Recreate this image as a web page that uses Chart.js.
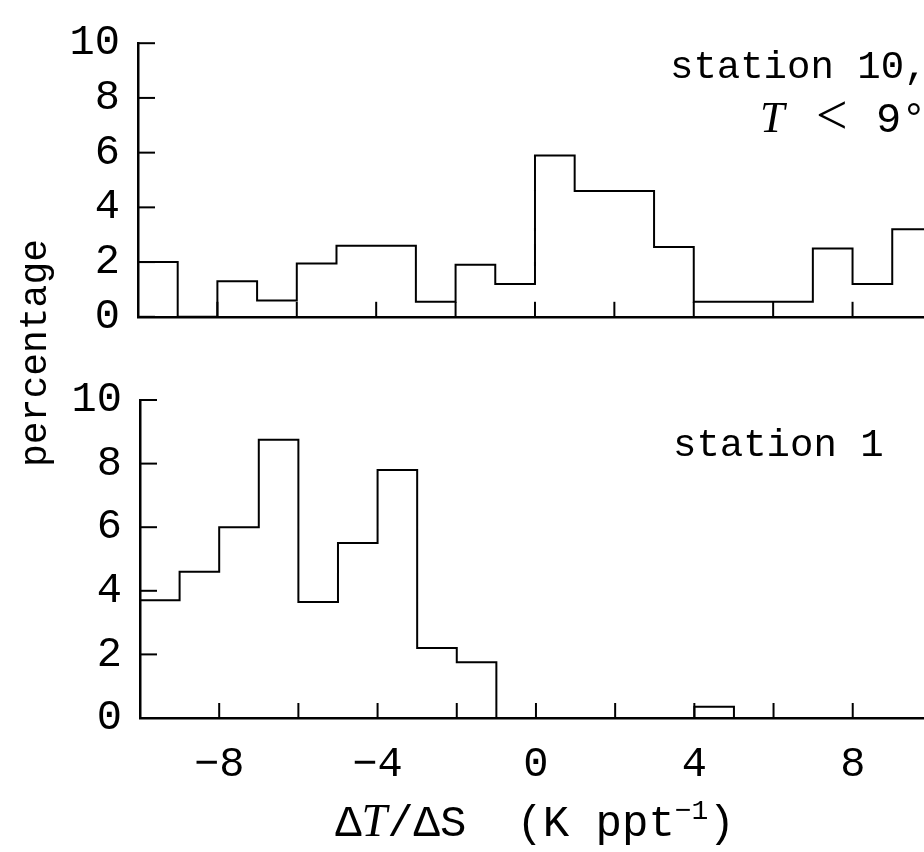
<!DOCTYPE html>
<html>
<head>
<meta charset="utf-8">
<script src="https://cdn.jsdelivr.net/npm/chart.js@4.4.1/dist/chart.umd.min.js"></script>
<style>
  body { margin: 0; background: #fff; }
  #wrap { position: relative; width: 924px; height: 852px; }
  #wrap canvas { position: absolute; left: 0; top: 0; }
</style>
</head>
<body>
<div id="wrap">
  <canvas id="bottomChart" width="924" height="852"></canvas>
  <canvas id="topChart" width="924" height="360"></canvas>
</div>
<script>
// bordes de clase (K ppt-1) y porcentaje de cada clase
const binEdges = [-10, -9, -8, -7, -6, -5, -4, -3, -2, -1, 0, 1, 2, 3, 4, 5, 6, 7, 8, 9, 10];
const station10Pct = [2.0, 0, 1.3, 0.6, 1.95, 2.6, 2.6, 0.55, 1.9, 1.2, 5.9, 4.6, 4.6, 2.55, 0.55, 0.55, 0.55, 2.5, 1.2, 3.2];
const station1Pct = [3.7, 4.6, 6.0, 8.75, 3.65, 5.5, 7.8, 2.2, 1.75, 0, 0, 0, 0, 0, 0.35, 0, 0, 0, 0, 0];

const yTickValues = [0, 2, 4, 6, 8, 10];
const xLabelValues = [-8, -4, 0, 4, 8];

const MONO = '"Liberation Mono", "DejaVu Sans Mono", monospace';
const SERIF = '"Liberation Serif", "DejaVu Serif", serif';

// puntos del escalonado: el valor de cada clase va desde su borde izquierdo al derecho
function stepPoints(edges, pct) {
    return edges.map((x, i) => ({ x: x, y: i === 0 ? 0 : pct[i - 1] }));
}

// marcas de los ejes hacia adentro
const tickMarks = {
    id: 'tickMarks',
    afterDraw(chart) {
        const { ctx, scales: { x, y } } = chart;
        ctx.save();
        ctx.strokeStyle = '#000';
        ctx.lineWidth = 2;
        x.ticks.forEach(t => {
            if (t.value <= x.min) return;
            const px = x.getPixelForValue(t.value);
            ctx.beginPath();
            ctx.moveTo(px, y.bottom);
            ctx.lineTo(px, y.bottom - 15);
            ctx.stroke();
        });
        yTickValues.forEach(v => {
            const py = y.getPixelForValue(v);
            ctx.beginPath();
            ctx.moveTo(x.left, py);
            ctx.lineTo(x.left + 17, py);
            ctx.stroke();
        });
        ctx.restore();
    }
};

// dibuja trozos de texto seguidos (para cursivas y superindices)
function drawPieces(ctx, pieces, x, y) {
    pieces.forEach(p => {
        ctx.font = p.font;
        const dy = p.sup ? -17 : 0;
        ctx.fillText(p.text, x, y + dy);
        x += ctx.measureText(p.text).width + (p.gap || 0);
    });
}

const topNotes = {
    id: 'topNotes',
    afterDraw(chart) {
        const ctx = chart.ctx;
        ctx.save();
        ctx.fillStyle = '#000';
        ctx.textBaseline = 'alphabetic';
        ctx.font = '39px ' + MONO;
        ctx.fillText('station 10,', 670, 78);
        ctx.font = 'italic 44px ' + SERIF;
        ctx.fillText('T', 760, 132);
        ctx.font = '56px ' + SERIF;
        ctx.fillText('<', 816, 134);
        ctx.font = '42px ' + MONO;
        ctx.fillText('9\u00b0C', 876, 132);
        ctx.restore();
    }
};

const bottomNotes = {
    id: 'bottomNotes',
    afterDraw(chart) {
        const ctx = chart.ctx;
        ctx.save();
        ctx.fillStyle = '#000';
        ctx.textBaseline = 'alphabetic';
        ctx.font = '39px ' + MONO;
        ctx.fillText('station 1', 673, 456);

        // titulo eje y
        ctx.save();
        ctx.translate(46, 353);
        ctx.rotate(-Math.PI / 2);
        ctx.textAlign = 'center';
        ctx.font = '38px ' + MONO;
        ctx.fillText('percentage', 0, 0);
        ctx.restore();

        // titulo eje x
        const up = '44px ' + MONO;
        const it = 'italic 46px ' + SERIF;
        const pieces = [
            { text: '\u0394', font: up },
            { text: 'T', font: it },
            { text: '/', font: up },
            { text: '\u0394', font: up },
            { text: 'S', font: up, gap: 50 },
            { text: '(K ppt', font: up },
            { text: '\u22121', font: '28px ' + MONO, sup: true },
            { text: ')', font: up }
        ];
        let w = 0;
        pieces.forEach(p => { ctx.font = p.font; w += ctx.measureText(p.text).width + (p.gap || 0); });
        drawPieces(ctx, pieces, 535 - w / 2, 836);
        ctx.restore();
    }
};

function makeOptions(padTop, yWidth, xHeight, showX) {
    return {
        responsive: false,
        animation: false,
        layout: { padding: { top: padTop, right: 0, bottom: 0, left: 0 } },
        plugins: { legend: { display: false }, tooltip: { enabled: false } },
        scales: {
            x: {
                type: 'linear',
                min: -10,
                max: 9.8,
                grid: { display: false, drawTicks: false, tickLength: 0 },
                border: { display: true, color: '#000', width: 2.5 },
                afterFit: s => { s.height = xHeight; },
                ticks: {
                    display: showX,
                    stepSize: 2,
                    includeBounds: false,
                    autoSkip: false,
                    maxRotation: 0,
                    padding: 22,
                    color: '#000',
                    font: { family: MONO, size: 42 },
                    callback: v => xLabelValues.includes(v) ? String(v).replace('-', '\u2212') : ''
                }
            },
            y: {
                min: 0,
                max: 10,
                grid: { display: false, drawTicks: false, tickLength: 0 },
                border: { display: true, color: '#000', width: 2.5 },
                afterFit: s => { s.width = yWidth; },
                ticks: {
                    stepSize: 2,
                    padding: 18,
                    color: '#000',
                    font: { family: MONO, size: 42 }
                }
            }
        }
    };
}

function lineDataset(pct) {
    return {
        data: stepPoints(binEdges, pct),
        stepped: 'after',
        borderColor: '#000',
        borderWidth: 2,
        pointRadius: 0,
        fill: false
    };
}

new Chart(document.getElementById('topChart'), {
    type: 'line',
    data: { datasets: [lineDataset(station10Pct)] },
    options: makeOptions(24, 138, 23, false),
    plugins: [tickMarks, topNotes]
});

new Chart(document.getElementById('bottomChart'), {
    type: 'line',
    data: { datasets: [lineDataset(station1Pct)] },
    options: makeOptions(400, 140, 134, true),
    plugins: [tickMarks, bottomNotes]
});
</script>
</body>
</html>
